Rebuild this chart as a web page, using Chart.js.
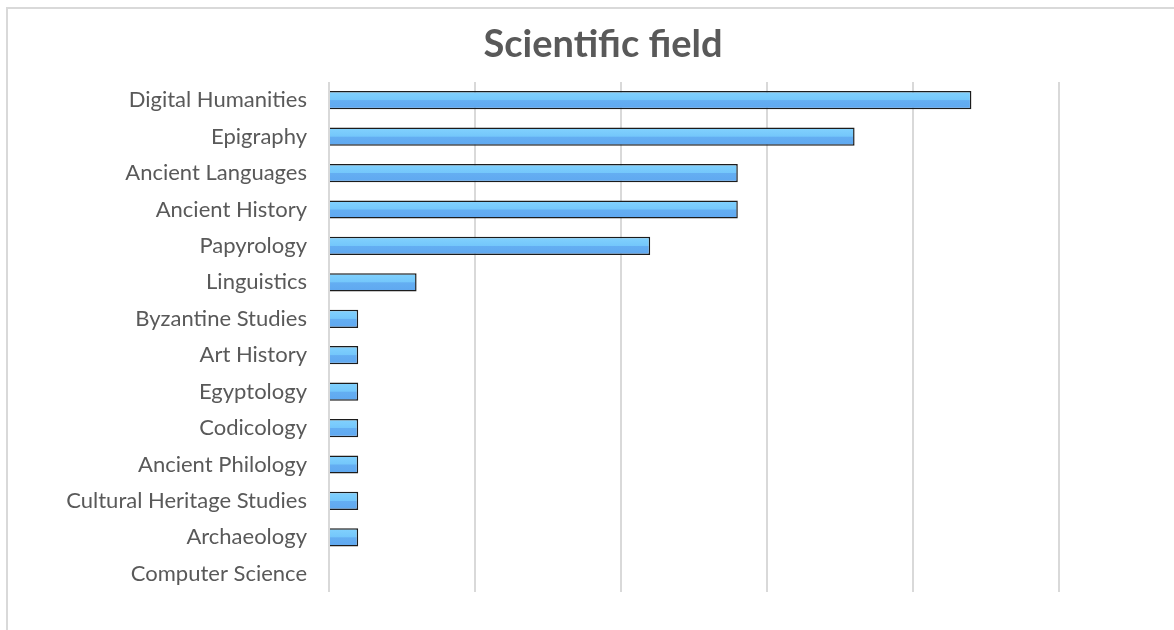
<!DOCTYPE html>
<html>
<head>
<meta charset="utf-8">
<script src="https://cdn.jsdelivr.net/npm/chart.js@4.4.0/dist/chart.umd.min.js"></script>
<style>
  body { margin: 0; background: #fff; overflow: hidden; }
  #wrap { position: relative; width: 1174px; height: 630px; overflow: hidden; }
  #frame { position: absolute; left: 6px; top: 7px; width: 1200px; height: 700px; border: 2px solid #d9d9d9; }
  #chart-area { position: absolute; left: 0; top: 0; }
</style>
</head>
<body>
<div id="wrap">
  <div id="frame"></div>
  <canvas id="chart-area" width="1174" height="630"></canvas>
</div>
<script>
// categories top to bottom
var fields = ["Digital Humanities", "Epigraphy", "Ancient Languages", "Ancient History",
  "Papyrology", "Linguistics", "Byzantine Studies", "Art History", "Egyptology",
  "Codicology", "Ancient Philology", "Cultural Heritage Studies", "Archaeology", "Computer Science"];
var counts = [22, 18, 14, 14, 11, 3, 1, 1, 1, 1, 1, 1, 1, 0];
var xMax = 25;
var xStep = 5;
var chartTitle = "Scientific field";

//bar fill, light on top and darker underneath
function barFill(context) {
  var chart = context.chart;
  var y = chart.scales && chart.scales.y;
  if (!y || context.dataIndex === undefined) return "#6db8f6";
  var mid = y.getPixelForValue(context.dataIndex);
  if (!isFinite(mid)) return "#6db8f6";
  var g = chart.ctx.createLinearGradient(0, mid - 9, 0, mid + 9);
  g.addColorStop(0, "#82d2fe");
  g.addColorStop(0.48, "#74c7fb");
  g.addColorStop(0.52, "#64aef2");
  g.addColorStop(1, "#5fa8f0");
  return g;
}

//title sits a bit right of the canvas middle, like the original
var titlePlugin = {
  id: "offsetTitle",
  afterDraw: function (chart) {
    var c = chart.ctx;
    c.save();
    c.font = "bold 38px Lato";
    c.fillStyle = "#595959";
    c.textAlign = "center";
    c.textBaseline = "alphabetic";
    c.fillText(chartTitle, 603, 57);
    c.restore();
  }
};

var ctx = document.getElementById("chart-area").getContext("2d");
var myChart = new Chart(ctx, {
  type: "bar",
  data: {
    labels: fields,
    datasets: [{
      data: counts,
      backgroundColor: barFill,
      borderColor: "#1c1c1c",
      borderWidth: 1.5,
      categoryPercentage: 1,
      barPercentage: 0.5
    }]
  },
  options: {
    indexAxis: "y",
    responsive: false,
    animation: false,
    layout: { padding: { left: 0, right: 115, top: 82, bottom: 38 } },
    plugins: {
      legend: { display: false },
      tooltip: { enabled: false },
      title: { display: false }
    },
    scales: {
      x: {
        min: 0,
        max: xMax,
        ticks: { display: false, stepSize: xStep },
        grid: { color: "#d9d9d9", lineWidth: 2, drawTicks: false },
        border: { display: false }
      },
      y: {
        ticks: { color: "#595959", font: { family: "Lato", size: 22 }, padding: 22 },
        grid: { display: false, drawTicks: false },
        border: { display: false },
        afterFit: function (scale) { scale.width = 329; }
      }
    }
  },
  plugins: [titlePlugin]
});
myChart.update();
</script>
</body>
</html>
